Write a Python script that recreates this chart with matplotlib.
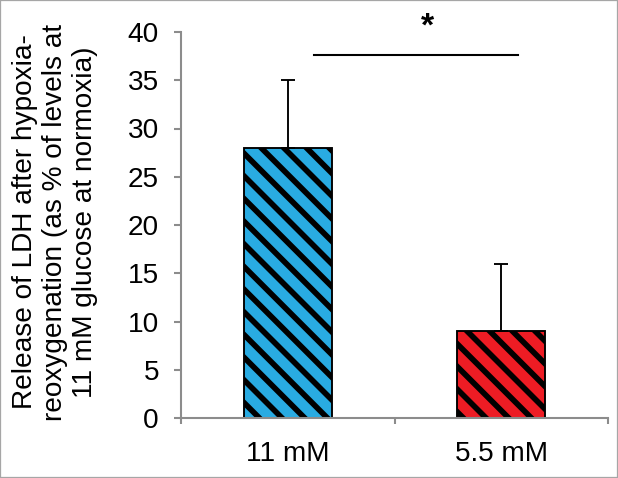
import matplotlib
matplotlib.use("Agg")
import matplotlib.pyplot as plt
import numpy as np

groups = ["11 mM", "5.5 mM"]
ldh_release = [28, 9]
sd_upper = [7, 7]
bar_colors = ["#29ABE2", "#ED1C24"]
sig_level = 37.6
sig_span = [0.124, 1.08]
sig_star_x = 0.653

DPI = 136
plt.rcParams["font.family"] = ["Liberation Sans", "DejaVu Sans"]
plt.rcParams["hatch.linewidth"] = 3.0
plt.rcParams["hatch.color"] = "black"

fig = plt.figure(figsize=(618 / DPI, 478 / DPI), dpi=DPI)
ax = fig.add_axes([181 / 618, 1 - 418 / 478, 427 / 618, 386 / 478])

x = np.arange(len(groups))
ax.bar(x, ldh_release, width=0.41, color=bar_colors, edgecolor="black",
       linewidth=1.0, hatch="\\\\", zorder=2)
ax.errorbar(x, ldh_release, yerr=[np.zeros(len(x)), sd_upper], fmt="none",
            ecolor="black", elinewidth=1.0, capsize=3.7, capthick=1.0, zorder=3)

ax.plot(sig_span, [sig_level, sig_level], color="black", linewidth=1.1,
        clip_on=False)
ax.text(sig_star_x, 40.5, "*", ha="center", va="center", fontsize=18,
        fontweight="bold", clip_on=False)

ax.set_xlim(-0.5, 1.5)
ax.set_ylim(0, 40)
ax.set_yticks(range(0, 41, 5))
ax.set_xticks(x)
ax.set_xticklabels(groups)
ax.set_xticks([-0.5, 0.5, 1.5], minor=True)

for side in ["top", "right"]:
    ax.spines[side].set_visible(False)
for side in ["left", "bottom"]:
    ax.spines[side].set_color("#8c8c8c")
    ax.spines[side].set_linewidth(1.1)

ax.tick_params(axis="y", length=3.7, width=1.1, color="#8c8c8c",
               labelsize=14.8, pad=8)
ax.tick_params(axis="x", which="major", length=0, labelsize=14.8, pad=12)
ax.tick_params(axis="x", which="minor", length=3.2, width=1.1,
               color="#8c8c8c")

fig.text(55 / 618, 1 - 222 / 478,
         "Release of LDH after hypoxia-\nreoxygenation (as % of levels at\n"
         "11 mM glucose at normoxia)",
         rotation=90, ha="center", va="center", multialignment="center",
         fontsize=14.8, linespacing=1.2)

fig.patches.append(plt.Rectangle((0, 0), 1, 1, transform=fig.transFigure,
                                 fill=False, edgecolor="#a6a6a6",
                                 linewidth=1.2))

fig.savefig("out.png", dpi=DPI)
